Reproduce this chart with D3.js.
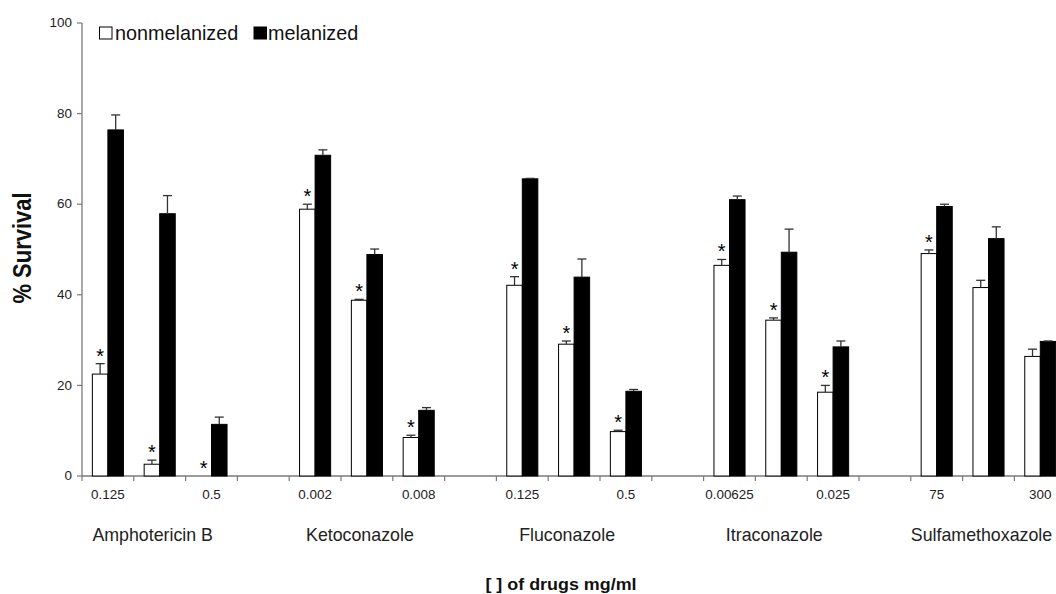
<!DOCTYPE html>
<html>
<head>
<meta charset="utf-8">
<script src="https://cdn.jsdelivr.net/npm/d3@7"></script>
<style>
  html, body { margin: 0; padding: 0; background: #fff; }
  svg { display: block; }
  text { font-family: "Liberation Sans", Arial, sans-serif; }
</style>
</head>
<body>
<svg id="chart" width="1056" height="594"></svg>
<script>
// ---- data ----
const drugs = ["Amphotericin B", "Ketoconazole", "Fluconazole", "Itraconazole", "Sulfamethoxazole"];
const doseLabels = [
  ["0.125", "", "0.5"],
  ["0.002", "", "0.008"],
  ["0.125", "", "0.5"],
  ["0.00625", "", "0.025"],
  ["75", "", "300"]
];
const seriesNames = ["nonmelanized", "melanized"];
const nonmelanized = [22.5, 2.6, 0, 58.9, 38.8, 8.5, 42.1, 29.1, 9.8, 46.5, 34.4, 18.5, 49.1, 41.6, 26.4];
const nonmelanizedErr = [2.3, 0.9, 0, 1.1, 0.2, 0.5, 1.9, 0.7, 0.3, 1.3, 0.5, 1.5, 0.8, 1.6, 1.6];
const melanized = [76.4, 57.9, 11.4, 70.8, 48.9, 14.5, 65.6, 43.9, 18.7, 61.0, 49.4, 28.5, 59.5, 52.4, 29.7];
const melanizedErr = [3.3, 4.0, 1.6, 1.2, 1.2, 0.6, 0.1, 4.0, 0.4, 0.8, 5.1, 1.3, 0.5, 2.6, 0.1];
const significant = [true, true, true, true, true, true, true, true, true, true, true, true, true, false, false];
const yTicks = [0, 20, 40, 60, 80, 100];

// ---- layout ----
const svg = d3.select("#chart");
const axisColor = "#7a7a7a";
const slotsPerDrug = 4; // 3 doses + 1 gap
const nSlots = drugs.length * slotsPerDrug - 1;
const slotIds = d3.range(nSlots);
const step = 51.8;
const x0 = 82;
const x = d3.scaleBand().domain(slotIds).range([x0, x0 + nSlots * step]).paddingInner(0).paddingOuter(0);
const y = d3.scaleLinear().domain([0, 100]).range([476, 23]);

// build bar records
const records = [];
drugs.forEach((d, di) => {
  for (let k = 0; k < 3; k++) {
    const i = di * 3 + k;
    records.push({
      slot: di * slotsPerDrug + k,
      label: doseLabels[di][k],
      nm: nonmelanized[i], nmErr: nonmelanizedErr[i],
      m: melanized[i], mErr: melanizedErr[i],
      sig: significant[i]
    });
  }
});

const barW = x.bandwidth() * 0.3;
const pairOff = (x.bandwidth() - 2 * barW) / 2;

// y axis
svg.append("line").attr("x1", x0).attr("x2", x0).attr("y1", y(100)).attr("y2", y(0))
  .attr("stroke", axisColor).attr("stroke-width", 1.3);
yTicks.forEach(t => {
  svg.append("line").attr("x1", x0 - 5).attr("x2", x0).attr("y1", y(t)).attr("y2", y(t))
    .attr("stroke", axisColor).attr("stroke-width", 1.2);
  svg.append("text")
    .attr("transform", `translate(${x0 - 10},${y(t) + 4.2}) scale(1.12,1)`)
    .attr("text-anchor", "end").attr("font-size", 12).attr("fill", "#222").text(t);
});

// x axis
svg.append("line").attr("x1", x0).attr("x2", x0 + nSlots * step).attr("y1", y(0)).attr("y2", y(0))
  .attr("stroke", axisColor).attr("stroke-width", 1.3);
d3.range(nSlots + 1).forEach(i => {
  const xx = x0 + i * step;
  svg.append("line").attr("x1", xx).attr("x2", xx).attr("y1", y(0)).attr("y2", y(0) + 5)
    .attr("stroke", axisColor).attr("stroke-width", 1.2);
});

// bars
const g = svg.append("g");
records.forEach(r => {
  const bx = x(r.slot) + pairOff;
  // nonmelanized (white)
  g.append("rect").attr("x", bx).attr("y", y(r.nm)).attr("width", barW)
    .attr("height", Math.max(0, y(0) - y(r.nm)))
    .attr("fill", "#fff").attr("stroke", "#000").attr("stroke-width", 1);
  // melanized (black)
  g.append("rect").attr("x", bx + barW).attr("y", y(r.m)).attr("width", barW)
    .attr("height", y(0) - y(r.m))
    .attr("fill", "#000").attr("stroke", "#000").attr("stroke-width", 1);

  // error bars
  [[bx + barW / 2, r.nm, r.nmErr], [bx + barW * 1.5, r.m, r.mErr]].forEach(([cx, v, e]) => {
    if (e <= 0) return;
    g.append("line").attr("x1", cx).attr("x2", cx).attr("y1", y(v)).attr("y2", y(v + e))
      .attr("stroke", "#333").attr("stroke-width", 1.3);
    g.append("line").attr("x1", cx - 4.5).attr("x2", cx + 4.5).attr("y1", y(v + e)).attr("y2", y(v + e))
      .attr("stroke", "#333").attr("stroke-width", 1.3);
  });

  // significance star
  if (r.sig) {
    g.append("text").attr("x", bx + barW / 2).attr("y", y(r.nm + r.nmErr) - 1)
      .attr("text-anchor", "middle").attr("font-size", 20).attr("fill", "#000").text("*");
  }

  // dose label
  if (r.label) {
    svg.append("text")
      .attr("transform", `translate(${x(r.slot) + x.bandwidth() / 2},${499}) scale(1.12,1)`)
      .attr("text-anchor", "middle").attr("font-size", 12).attr("fill", "#222").text(r.label);
  }
});

// drug labels
drugs.forEach((d, di) => {
  const mid = x(di * slotsPerDrug + 1) + x.bandwidth() / 2 - 7;
  svg.append("text").attr("x", mid).attr("y", 541).attr("text-anchor", "middle")
    .attr("font-size", 17.8).attr("fill", "#222").text(d);
});

// axis titles
svg.append("text")
  .attr("transform", `translate(31,248) rotate(-90) scale(1,1.2)`)
  .attr("text-anchor", "middle").attr("font-size", 22).attr("font-weight", "bold")
  .attr("fill", "#111").text("% Survival");
svg.append("text")
  .attr("transform", `translate(561,590) scale(1.12,1)`)
  .attr("text-anchor", "middle").attr("font-size", 16).attr("font-weight", "bold")
  .attr("fill", "#111").text("[ ] of drugs mg/ml");

// legend
const legend = svg.append("g");
const legendItems = [
  { name: seriesNames[0], fill: "#fff", sx: 99.5, tx: 115 },
  { name: seriesNames[1], fill: "#000", sx: 254, tx: 268 }
];
legendItems.forEach(it => {
  legend.append("rect").attr("x", it.sx).attr("y", 27).attr("width", 12.5).attr("height", 12)
    .attr("fill", it.fill).attr("stroke", "#000").attr("stroke-width", 1);
  legend.append("text").attr("x", it.tx).attr("y", 39.5).attr("font-size", 19.8)
    .attr("fill", "#111").text(it.name);
});
</script>
</body>
</html>
